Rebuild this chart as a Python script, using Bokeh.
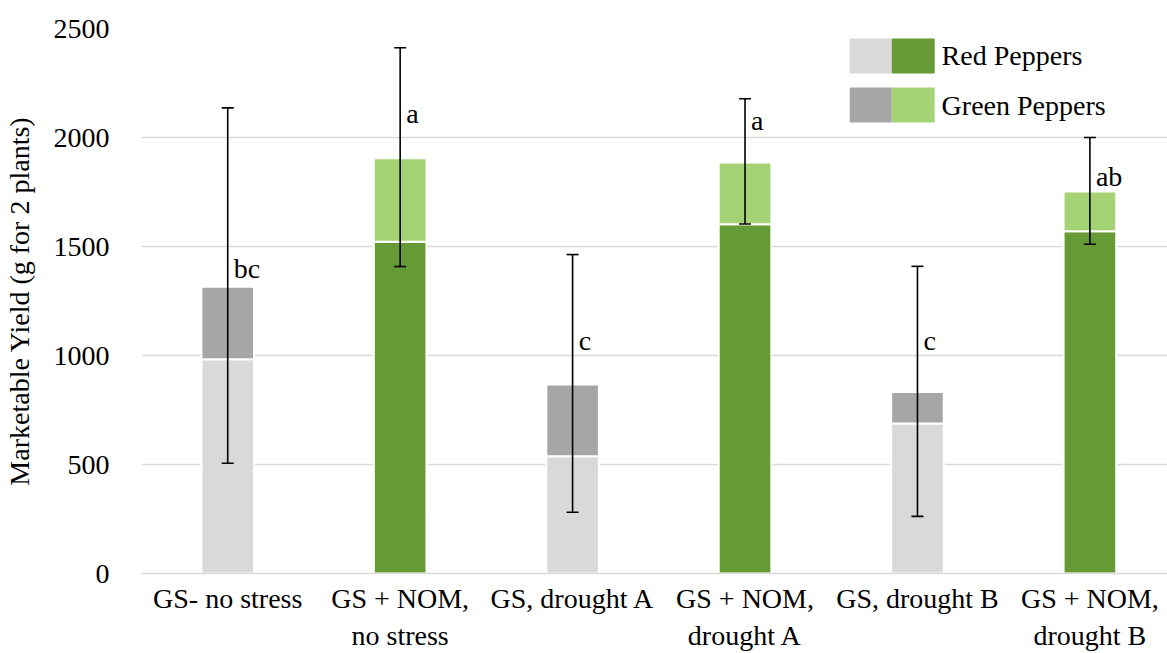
from bokeh.plotting import figure
from bokeh.models import ColumnDataSource, Whisker, TeeHead, FixedTicker, Range1d, Label
from bokeh.core.properties import value
from bokeh.embed import file_html
from bokeh.resources import INLINE

categories = ["GS- no stress", "GS + NOM,\nno stress", "GS, drought A",
              "GS + NOM,\ndrought A", "GS, drought B", "GS + NOM,\ndrought B"]
red_peppers = [983, 1522, 538, 1602, 688, 1570]
green_peppers = [332, 383, 329, 283, 145, 182]
err_lower = [506, 1408, 281, 1603, 262, 1510]
err_upper = [2136, 2412, 1463, 2178, 1409, 2000]
letters = ["bc", "a", "c", "a", "c", "ab"]
letter_y = [1400, 2110, 1070, 2078, 1070, 1822]

is_nom = [False, True, False, True, False, True]
red_colors = ["#669a34" if n else "#d9d9d9" for n in is_nom]
green_colors = ["#a5d275" if n else "#a6a6a6" for n in is_nom]

FONT = "Times New Roman, Liberation Serif, DejaVu Serif, serif"
FS = "28px"

xs = list(range(1, len(categories) + 1))
totals = [r + g for r, g in zip(red_peppers, green_peppers)]

src = ColumnDataSource(dict(
    x=xs, red=red_peppers, total=totals, rc=red_colors, gc=green_colors,
    lo=err_lower, up=err_upper, lab=letters, ly=letter_y,
    lx=[x + 0.035 for x in xs],
))

W, H = 1167, 653
p = figure(width=W, height=H, output_backend="svg", toolbar_location=None,
           x_range=Range1d(0.5, 6.45), y_range=Range1d(0, 2500),
           min_border_left=141, min_border_right=0, min_border_top=28,
           min_border_bottom=80)
p.outline_line_color = None
p.background_fill_color = "white"

p.vbar(x="x", width=0.305, bottom=0, top="red", fill_color="rc",
       line_color="white", line_width=2, source=src)
p.vbar(x="x", width=0.305, bottom="red", top="total", fill_color="gc",
       line_color="white", line_width=2, source=src)

wh = Whisker(base="x", lower="lo", upper="up", source=src, level="overlay",
             line_color="black", line_width=1.6,
             upper_head=TeeHead(size=12, line_color="black", line_width=1.6),
             lower_head=TeeHead(size=12, line_color="black", line_width=1.6))
p.add_layout(wh)

p.text(x="lx", y="ly", text="lab", source=src, text_font=value(FONT),
       text_font_size=FS, text_color="black", text_baseline="middle",
       text_align="left")

# grid & axes
p.xgrid.grid_line_color = None
p.ygrid.grid_line_color = "#d9d9d9"
p.ygrid.grid_line_width = 1.5
p.yaxis.ticker = FixedTicker(ticks=[0, 500, 1000, 1500, 2000, 2500])
p.yaxis.axis_line_color = None
p.yaxis.major_tick_line_color = None
p.yaxis.minor_tick_line_color = None
p.yaxis.major_label_text_font = FONT
p.yaxis.major_label_text_font_size = FS
p.yaxis.major_label_text_color = "black"
p.yaxis.major_label_standoff = 26
p.yaxis.axis_label = "Marketable Yield (g for 2 plants)"
p.yaxis.axis_label_text_font = FONT
p.yaxis.axis_label_text_font_size = FS
p.yaxis.axis_label_text_font_style = "normal"
p.yaxis.axis_label_text_color = "black"
p.yaxis.axis_label_standoff = 16

p.xaxis.ticker = FixedTicker(ticks=xs)
p.xaxis.major_label_overrides = {x: c for x, c in zip(xs, categories)}
p.xaxis.axis_line_color = "#d9d9d9"
p.xaxis.axis_line_width = 1.5
p.xaxis.major_tick_line_color = None
p.xaxis.minor_tick_line_color = None
p.xaxis.major_label_text_font = FONT
p.xaxis.major_label_text_font_size = FS
p.xaxis.major_label_text_color = "black"
p.xaxis.major_label_standoff = 3

# legend (drawn as swatches + labels in data space)
leg_rows = [("Red Peppers", "#d9d9d9", "#669a34", 2374),
            ("Green Peppers", "#a6a6a6", "#a5d275", 2149)]
for name, c1, c2, yc in leg_rows:
    p.quad(left=[4.607], right=[4.851], bottom=[yc - 80], top=[yc + 80],
           fill_color=c1, line_color=None)
    p.quad(left=[4.851], right=[5.10], bottom=[yc - 80], top=[yc + 80],
           fill_color=c2, line_color=None)
    p.add_layout(Label(x=5.14, y=yc, text=name, text_font=FONT,
                       text_font_size=FS, text_color="black",
                       text_baseline="middle"))

open("out.html", "w").write(file_html(p, INLINE))
